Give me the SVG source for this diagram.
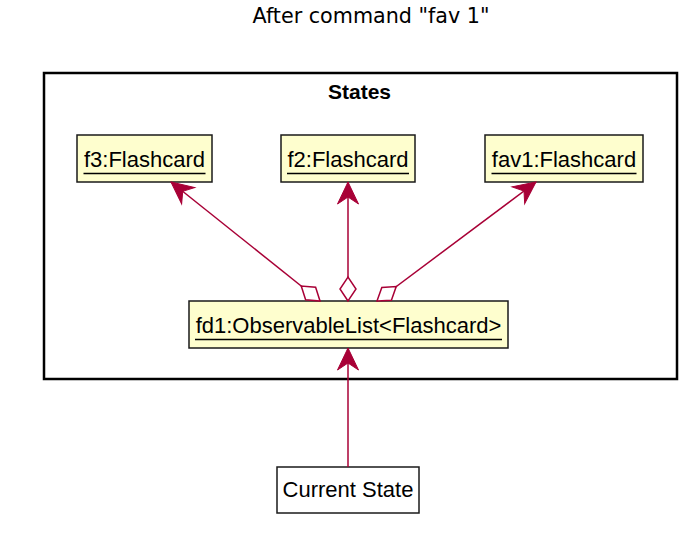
<svg xmlns="http://www.w3.org/2000/svg" width="696" height="533" viewBox="0 0 696 533">
<style>
.obj{fill:#FEFECE;stroke:#1a1a1a;stroke-width:1.5}
.plain{fill:#FFFFFF;stroke:#1a1a1a;stroke-width:1.5}
.lbl{font-family:"Liberation Sans",Arial,sans-serif;font-size:22px;fill:#000;text-anchor:middle}
.ul{stroke:#000;stroke-width:1.5}
.conn{stroke:#A80036;stroke-width:1.5;fill:none}
</style>
<defs>
<marker id="arr" markerUnits="userSpaceOnUse" orient="auto" markerWidth="1" markerHeight="1" refX="0" refY="0" style="overflow:visible">
<path d="M0,0 L-22,-10.5 L-15,0 L-22,10.5 Z" fill="#A80036" stroke="#A80036" stroke-width="1"/>
</marker>
<marker id="dia" markerUnits="userSpaceOnUse" orient="auto" markerWidth="1" markerHeight="1" refX="0" refY="0" style="overflow:visible">
<path d="M0,0 L12,-8 L24,0 L12,8 Z" fill="#FFFFFF" stroke="#A80036" stroke-width="1.5"/>
</marker>
</defs>
<rect width="696" height="533" fill="#FFFFFF"/>
<text x="371" y="23" font-family="DejaVu Sans,sans-serif" font-size="20.7" text-anchor="middle" fill="#000">After command "fav 1"</text>
<g id="States">
<rect x="44" y="73" width="633" height="306" fill="none" stroke="#000" stroke-width="2.5"/>
<text x="359.5" y="99" font-family="Liberation Sans,Arial,sans-serif" font-size="21" font-weight="bold" text-anchor="middle" fill="#000">States</text>
</g>
<g id="f3">
<rect class="obj" x="77" y="135" width="135" height="47"/>
<text class="lbl" x="144.5" y="167">f3:Flashcard</text>
<line class="ul" x1="83.5" y1="173.5" x2="205.5" y2="173.5"/>
</g>
<g id="f2">
<rect class="obj" x="281" y="135" width="134" height="47"/>
<text class="lbl" x="348" y="167">f2:Flashcard</text>
<line class="ul" x1="287" y1="173.5" x2="409" y2="173.5"/>
</g>
<g id="fav1">
<rect class="obj" x="485" y="135" width="158" height="47"/>
<text class="lbl" x="564" y="167">fav1:Flashcard</text>
<line class="ul" x1="491.5" y1="173.5" x2="636.5" y2="173.5"/>
</g>
<g id="fd1">
<rect class="obj" x="189" y="301" width="319" height="47"/>
<text class="lbl" x="348.5" y="333">fd1:ObservableList&lt;Flashcard&gt;</text>
<line class="ul" x1="195" y1="339.5" x2="502" y2="339.5"/>
</g>
<g id="current">
<rect class="plain" x="277" y="467" width="142" height="46"/>
<text class="lbl" x="348" y="497">Current State</text>
</g>
<g id="connectors">
<path class="conn" d="M320,301 L171,182" marker-start="url(#dia)" marker-end="url(#arr)"/>
<path class="conn" d="M348,301 L348,182" marker-start="url(#dia)" marker-end="url(#arr)"/>
<path class="conn" d="M377,301 L536,182" marker-start="url(#dia)" marker-end="url(#arr)"/>
<path class="conn" d="M348,467 L348,348" marker-end="url(#arr)"/>
</g>
</svg>
